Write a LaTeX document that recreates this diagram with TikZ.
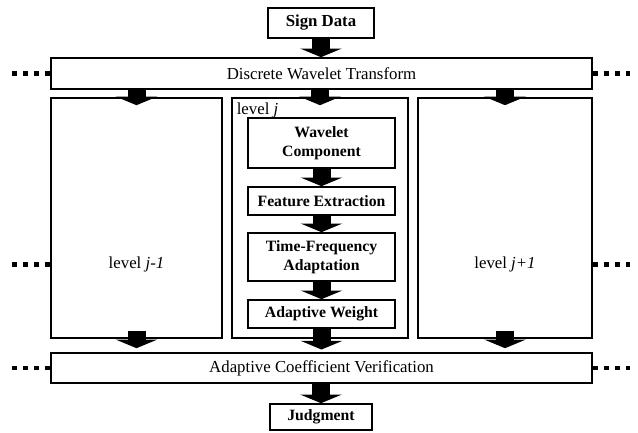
\documentclass[tikz,border=0pt]{standalone}
\usepackage{fontspec}
\setmainfont{Liberation Serif}
\usetikzlibrary{arrows.meta, positioning}
\newcommand{\diagfont}{\fontsize{12.6pt}{14.5pt}\selectfont}
\newcommand{\stepfont}{\fontsize{11.8pt}{14.5pt}\selectfont\bfseries}
\tikzset{
	box/.style     ={rectangle, draw=black, line width=1.2pt, inner sep=1pt, align=center},
	boldbox/.style ={box, font=\stepfont},
	colbox/.style  ={box, minimum height=180pt},
	stepbox/.style ={boldbox, minimum width=110.25pt},
	fatarrow/.style={line width=13.5pt, -{Triangle[width=31pt, length=6.5pt]}},
	dots/.style    ={line width=3.5pt, dash pattern=on 3.75pt off 4.5pt},
}

\begin{document}
\begin{tikzpicture}[x=0.75pt, y=-0.75pt, font=\diagfont]
	\useasboundingbox (0,0) rectangle (638,432);
	% input and transform
	\node[box, font=\diagfont\bfseries, minimum width=79.5pt, minimum height=22.5pt] (sign) at (321,23) {Sign Data};
	\node[box, minimum width=405.75pt, minimum height=23.25pt] (dwt) at (321.5,73.5) {Discrete Wavelet Transform};
	% levels
	\node[colbox, minimum width=128.25pt] (colL) at (136.5,218) {};
	\node[colbox, minimum width=132pt] (colC) at (320,218) {};
	\node[colbox, minimum width=130.5pt] (colR) at (505,218) {};
	\node (levL) at ([yshift=-35pt]colL.center) {level \textit{j-1}};
	\node (levR) at ([yshift=-35pt]colR.center) {level \textit{j+1}};
	\node[anchor=north west, inner sep=0pt] (levC) at ([xshift=4pt, yshift=-4pt]colC.north west) {level \textit{j}};
	% steps of level j
	\node[stepbox, minimum height=37.5pt] (wav) at (321.5,143) {Wavelet\\Component};
	\node[stepbox, minimum height=21pt] (feat) at (321.5,201) {Feature Extraction};
	\node[stepbox, minimum height=36pt] (tf) at (321.5,257) {Time-Frequency\\Adaptation};
	\node[stepbox, minimum height=21pt] (aw) at (321.5,314) {Adaptive Weight};
	% verification and output
	\node[box, minimum width=405.75pt, minimum height=22.5pt] (acv) at (321.5,368) {Adaptive Coefficient Verification};
	\node[boldbox, minimum width=76.5pt, minimum height=19.5pt] (judg) at (321,417) {Judgment};
	% free ends of the dotted lines
	\coordinate (endW) at (9,0);
	\coordinate (endE) at (630,0);
	% arrows
	\draw[fatarrow] (sign.south) -- (sign.south |- dwt.north);
	\draw[fatarrow] (dwt.south -| colL) -- ([yshift=-6pt]colL.north);
	\draw[fatarrow] (dwt.south -| colC) -- ([yshift=-6pt]colC.north);
	\draw[fatarrow] (dwt.south -| colR) -- ([yshift=-6pt]colR.north);
	\draw[fatarrow] (wav) -- (feat);
	\draw[fatarrow] (feat) -- (tf);
	\draw[fatarrow] (tf) -- (aw);
	\draw[fatarrow, shorten >=2pt] (aw.south) -- (aw.south |- acv.north);
	\draw[fatarrow, shorten >=3pt] ([yshift=6pt]colL.south) -- (colL.south |- acv.north);
	\draw[fatarrow, shorten >=3pt] ([yshift=6pt]colR.south) -- (colR.south |- acv.north);
	\draw[fatarrow] (acv.south -| judg) -- (judg.north);
	% dotted continuations
	\draw[dots] (dwt.west) -- (endW |- dwt);
	\draw[dots] (dwt.east) -- (endE |- dwt);
	\draw[dots] (colL.west |- levL) -- (endW |- levL);
	\draw[dots] (colR.east |- levR) -- (endE |- levR);
	\draw[dots] (acv.west) -- (endW |- acv);
	\draw[dots] (acv.east) -- (endE |- acv);
\end{tikzpicture}
\end{document}
